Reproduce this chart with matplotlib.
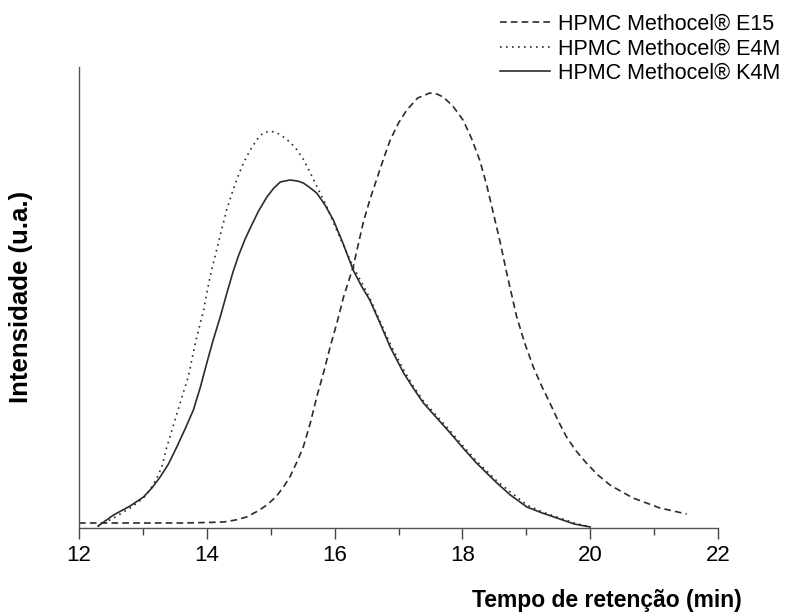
import matplotlib
matplotlib.use("Agg")
import matplotlib.pyplot as plt

plt.rcParams['font.family'] = ['Liberation Sans', 'DejaVu Sans']

# E15 (dashed)
e15_x = [12.0, 12.5, 13.0, 13.6, 14.0, 14.26, 14.45, 14.62, 14.80, 14.94, 15.08, 15.20, 15.30, 15.41, 15.51,
         15.62, 15.72, 15.83, 15.93, 16.04, 16.14, 16.29, 16.45, 16.56, 16.66, 16.77, 16.87, 17.00,
         17.13, 17.30, 17.49, 17.60, 17.70, 17.85, 18.01, 18.14, 18.27, 18.38, 18.48, 18.59,
         18.69, 18.85, 18.98, 19.11, 19.24, 19.37, 19.50, 19.63, 19.78, 19.94, 20.12, 20.31,
         20.50, 20.67, 20.88, 21.09, 21.30, 21.51]
e15_y = [5, 5, 5, 5, 5.5, 6, 8, 11, 17, 23, 31, 41, 51, 66, 81,
         105, 131, 156, 181, 206, 231, 261, 306, 330, 349, 370, 388, 405,
         418, 430, 435, 434, 431, 422, 408, 390, 368, 343, 316, 286,
         256, 211, 184, 161, 142, 125, 107, 91, 77, 65, 53, 43,
         36, 30, 25, 20, 17, 14]

# E4M (dotted)
e4m_x = [12.30, 12.54, 12.80, 13.01, 13.12, 13.22, 13.30, 13.37, 13.46, 13.55, 13.63, 13.71, 13.82,
         13.95, 14.05, 14.18, 14.31, 14.40, 14.49, 14.58, 14.68, 14.78, 14.88, 14.99, 15.10, 15.20,
         15.30, 15.40, 15.50, 15.62, 15.75, 15.88, 16.08, 16.29, 16.42, 16.55, 16.71, 16.87, 17.08,
         17.23, 17.39, 17.60, 17.81, 18.01, 18.22, 18.38, 18.54, 18.75, 19.01, 19.25, 19.48, 19.75, 20.0]
e4m_y = [2, 10, 20, 30, 39, 50, 62, 80, 99, 118, 135, 151, 185,
         218, 251, 285, 318, 336, 352, 366, 378, 388, 395, 397, 395, 391,
         386, 379, 370, 355, 338, 321, 291, 261, 246, 230, 207, 184, 158,
         142, 127, 112, 97, 82, 67, 57, 47, 36, 23, 16, 11, 5, 1]

# K4M (solid)
k4m_x = [12.30, 12.54, 12.80, 13.01, 13.14, 13.27, 13.40, 13.53, 13.66, 13.79, 13.90, 14.00, 14.10,
         14.21, 14.31, 14.41, 14.50, 14.60, 14.68, 14.81, 14.94, 15.05, 15.15, 15.30, 15.42, 15.51,
         15.60, 15.72, 15.85, 15.98, 16.13, 16.29, 16.42, 16.55, 16.71, 16.87, 17.08, 17.23, 17.39,
         17.60, 17.81, 18.01, 18.22, 18.38, 18.54, 18.75, 19.01, 19.25, 19.48, 19.75, 20.0]
k4m_y = [2, 13, 22, 31, 40, 51, 64, 81, 99, 118, 141, 165, 188,
         211, 234, 256, 273, 289, 300, 317, 331, 340, 346, 348, 347, 345,
         341, 335, 323, 308, 285, 258, 242, 228, 205, 181, 155, 140, 125,
         110, 95, 80, 65, 55, 45, 33, 21, 15, 10, 4, 1]

labels = ['HPMC Methocel® E15', 'HPMC Methocel® E4M', 'HPMC Methocel® K4M']
xticks = [12, 14, 16, 18, 20, 22]
minor_xticks = [13, 15, 17, 19, 21]

col = '#2b2b2b'
fig = plt.figure(figsize=(7.87, 6.16), dpi=100)
ax = fig.add_axes([79/787, 1-528/616, (718-79)/787, (528-67)/616])

l1, = ax.plot(e15_x, e15_y, color=col, lw=1.2, linestyle=(0, (4, 2.5)), label=labels[0])
l2, = ax.plot(e4m_x, e4m_y, color=col, lw=1.2, linestyle=(0, (1, 2.6)), label=labels[1])
l3, = ax.plot(k4m_x, k4m_y, color=col, lw=1.2, linestyle='-', label=labels[2])

ax.set_xlim(12, 22)
ax.set_ylim(0, 461)
ax.set_xticks(xticks)
ax.set_xticks(minor_xticks, minor=True)
ax.tick_params(axis='x', which='major', direction='out', length=8, width=1, colors='#444444',
               labelcolor='black', labelsize=16, pad=4)
ax.tick_params(axis='x', which='minor', direction='out', length=5, width=1, colors='#444444')
ax.set_yticks([])
for s in ['top', 'right']:
    ax.spines[s].set_visible(False)
for s in ['left', 'bottom']:
    ax.spines[s].set_color('#555555')
    ax.spines[s].set_linewidth(1.0)

fig.text(742/787, 1-600/616, 'Tempo de retenção (min)', ha='right', va='center',
         fontsize=16.5, fontweight='bold')
fig.text(21/787, 1-297/616, 'Intensidade (u.a.)', ha='center', va='center',
         rotation=90, fontsize=18.5, fontweight='bold')

fig.legend(handles=[l1, l2, l3], loc='upper left', bbox_to_anchor=(500/787, 1-14/616),
           frameon=False, fontsize=15.5, handlelength=2.3, handletextpad=0.4,
           labelspacing=0.15, borderpad=0, borderaxespad=0)

fig.savefig('out.png', dpi=100)
